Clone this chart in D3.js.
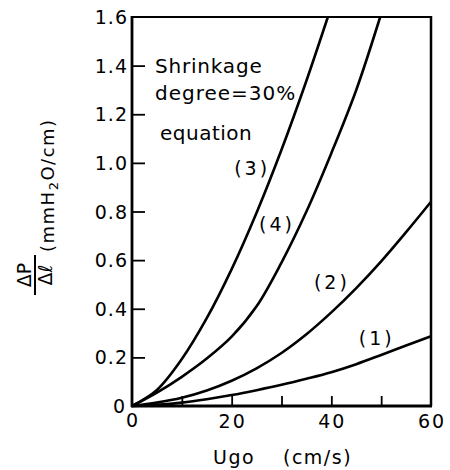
<!DOCTYPE html>
<html>
<head>
<meta charset="utf-8">
<script src="https://cdn.jsdelivr.net/npm/d3@7"></script>
<style>
  body { margin: 0; background: #fff; }
  text { font-family: "DejaVu Sans", sans-serif; fill: #000; }
</style>
</head>
<body>
<script>
'use strict';

// values
let eq1X = [0, 5, 10, 15, 20, 25, 30, 35, 40, 45, 50, 55, 60],
    eq1Y = [0, 0.005, 0.014, 0.028, 0.045, 0.065, 0.087, 0.112, 0.139, 0.172, 0.21, 0.249, 0.287],
    eq2X = [0, 5, 10, 15, 20, 25, 30, 35, 40, 45, 50, 55, 60],
    eq2Y = [0, 0.014, 0.034, 0.064, 0.104, 0.155, 0.218, 0.295, 0.385, 0.485, 0.595, 0.715, 0.84],
    eq3X = [0, 5, 10, 15, 20, 25, 30, 35, 39.3],
    eq3Y = [0, 0.066, 0.193, 0.361, 0.563, 0.795, 1.054, 1.338, 1.6],
    eq4X = [0, 5, 10, 15, 20, 25, 30, 35, 40, 45, 49.8],
    eq4Y = [0, 0.055, 0.12, 0.195, 0.285, 0.41, 0.59, 0.80, 1.04, 1.30, 1.6];

let curveNames = ["(1)", "(2)", "(3)", "(4)"],
    xTickVals = [10, 20, 30, 40, 50],
    xTickLabels = [20, 40, 60],
    yTickVals = [0.2, 0.4, 0.6, 0.8, 1.0, 1.2, 1.4],
    yTickLabels = [0.2, 0.4, 0.6, 0.8, 1.0, 1.2, 1.4, 1.6];

let width = 450,
    height = 470,
    svg = d3.select("body").append("svg")
            .attr("width", width)
            .attr("height", height);

let x = d3.scaleLinear().domain([0, 60]).range([132, 431]),
    y = d3.scaleLinear().domain([0, 1.6]).range([406, 17]);

// frame
svg.append("line")
    .attr("x1", x(0)).attr("x2", x(60))
    .attr("y1", y(1.6)).attr("y2", y(1.6))
    .style("stroke", "#000").style("stroke-width", 2);
svg.append("line")
    .attr("x1", x(60)).attr("x2", x(60))
    .attr("y1", y(1.6) - 1).attr("y2", y(0))
    .style("stroke", "#000").style("stroke-width", 2.5);

// tick marks (inward)
svg.append("g")
    .attr("transform", "translate(0," + y(0) + ")")
    .call(d3.axisBottom(x).tickValues(xTickVals).tickSize(-10).tickFormat(""))
    .call(g => g.select(".domain").remove())
    .selectAll("line").style("stroke-width", 1.8);

svg.append("g")
    .attr("transform", "translate(" + x(0) + ",0)")
    .call(d3.axisLeft(y).tickValues(yTickVals).tickSize(-13).tickFormat(""))
    .call(g => g.select(".domain").remove())
    .selectAll("line").style("stroke-width", 1.8);

// axis lines
svg.append("line")
    .attr("x1", x(0)).attr("x2", x(0))
    .attr("y1", y(1.6) - 1).attr("y2", y(0) + 1)
    .style("stroke", "#000").style("stroke-width", 2.8);
svg.append("line")
    .attr("x1", x(0) - 1).attr("x2", x(60) + 1)
    .attr("y1", y(0)).attr("y2", y(0))
    .style("stroke", "#000").style("stroke-width", 2.8);

// tick labels
svg.selectAll(".ylab")
    .data(yTickLabels)
  .enter().append("text")
    .attr("x", x(0) - 4)
    .attr("y", d => y(d) + 7)
    .attr("text-anchor", "end")
    .style("font-size", "19px")
    .style("letter-spacing", "1px")
    .text(d => d3.format(".1f")(d));

svg.selectAll(".xlab")
    .data(xTickLabels)
  .enter().append("text")
    .attr("x", d => x(d) + 1)
    .attr("y", y(0) + 22)
    .attr("text-anchor", "middle")
    .style("font-size", "19px")
    .style("letter-spacing", "2px")
    .text(d => d);

svg.append("text")
    .attr("x", x(0) - 13).attr("y", y(0) + 7)
    .attr("text-anchor", "middle")
    .style("font-size", "19px")
    .text("0");
svg.append("text")
    .attr("x", x(0)).attr("y", y(0) + 21)
    .attr("text-anchor", "middle")
    .style("font-size", "19px")
    .text("0");

// curves
let series = [
  d3.zip(eq1X, eq1Y),
  d3.zip(eq2X, eq2Y),
  d3.zip(eq3X, eq3Y),
  d3.zip(eq4X, eq4Y)
];

let line = d3.line()
    .x(d => x(d[0]))
    .y(d => y(d[1]))
    .curve(d3.curveCatmullRom.alpha(0.5));

svg.selectAll(".curve")
    .data(series)
  .enter().append("path")
    .attr("d", line)
    .style("fill", "none")
    .style("stroke", "#000")
    .style("stroke-width", 2.6)
    .style("stroke-linejoin", "round");

// curve labels, placed next to each curve
let labelAt = [[45.5, 0.25], [36.5, 0.48], [20.5, 0.95], [25.5, 0.72]];
svg.selectAll(".clab")
    .data(curveNames)
  .enter().append("text")
    .attr("x", (d, i) => x(labelAt[i][0]))
    .attr("y", (d, i) => y(labelAt[i][1]))
    .style("font-size", "19px")
    .style("letter-spacing", "3px")
    .text(d => d);

// annotation
svg.append("text").attr("x", 155).attr("y", 73)
    .style("font-size", "20px").style("letter-spacing", "0.8px")
    .text("Shrinkage");
svg.append("text").attr("x", 155).attr("y", 100)
    .style("font-size", "20px").style("letter-spacing", "1px")
    .text("degree=30%");
svg.append("text").attr("x", 160).attr("y", 140)
    .style("font-size", "20px").style("letter-spacing", "0.5px")
    .text("equation");

// x title
svg.append("text").attr("x", 213).attr("y", 464)
    .style("font-size", "19px").style("letter-spacing", "1.5px")
    .text("Ugo");
svg.append("text").attr("x", 283).attr("y", 464)
    .style("font-size", "19px").style("letter-spacing", "1.5px")
    .text("(cm/s)");

// y title: ΔP/Δℓ (mmH2O/cm), rotated
let yt = svg.append("g").attr("transform", "translate(35,275) rotate(-90)");
yt.append("text").attr("x", 0).attr("y", -4)
    .attr("text-anchor", "middle")
    .style("font-size", "19px")
    .text("ΔP");
yt.append("line")
    .attr("x1", -20).attr("x2", 20)
    .attr("y1", 0).attr("y2", 0)
    .style("stroke", "#000").style("stroke-width", 2);
yt.append("text").attr("x", 0).attr("y", 17)
    .attr("text-anchor", "middle")
    .style("font-size", "19px")
    .text("Δℓ");
let unit = yt.append("text").attr("x", 23).attr("y", 19)
    .style("font-size", "18px")
    .style("letter-spacing", "1.5px");
unit.append("tspan").text("(mmH");
unit.append("tspan").attr("dy", 4).style("font-size", "13px").text("2");
unit.append("tspan").attr("dy", -4).text("O/cm)");
</script>
</body>
</html>
